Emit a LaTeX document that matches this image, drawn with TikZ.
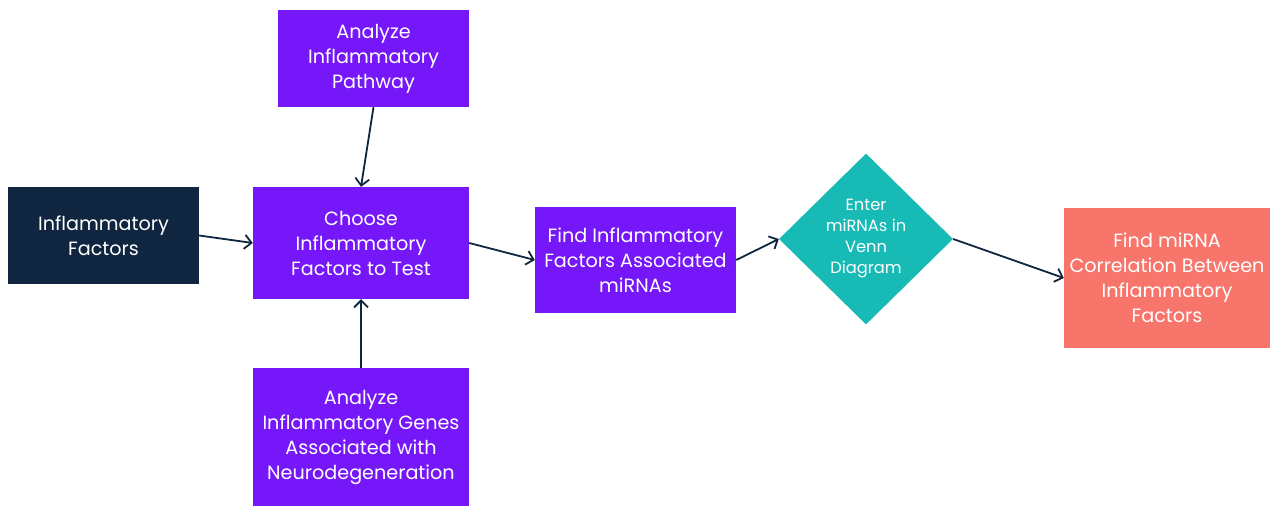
\documentclass[tikz,border=0pt]{standalone}
\usepackage{fontspec}
\setmainfont{Poppins}
\usepackage{tikz}
\usetikzlibrary{arrows.meta}
\usetikzlibrary{shapes.geometric}

\definecolor{navy}{HTML}{0F2540}
\definecolor{violet}{HTML}{7517F8}
\definecolor{teal}{HTML}{18BAB5}
\definecolor{salmon}{HTML}{F8756B}

\begin{document}
\begin{tikzpicture}[x=1pt, y=-1pt, every node/.style = {text=white, align=center, inner sep=0pt,
					font=\fontsize{19.2}{25}\selectfont}]

\tikzstyle{dark_box} = [rectangle, fill=navy]
\tikzstyle{step_box} = [rectangle, fill=violet]
\tikzstyle{venn_node} = [diamond, fill=teal, font=\fontsize{16.3}{21}\selectfont]
\tikzstyle{final_box} = [rectangle, fill=salmon]
\tikzstyle{flow} = [draw=navy, line width=1.8pt, -{Straight Barb[length=7pt,width=14pt]}]

\useasboundingbox (0,0) rectangle (1279,506);

\node[dark_box, minimum width=191pt, minimum height=97pt] (factors) at (103.5,235.5) {Inflammatory\\Factors};
\node[step_box, minimum width=191pt, minimum height=97pt] (pathway) at (373.5,58.5) {Analyze\\Inflammatory\\Pathway};
\node[step_box, minimum width=216pt, minimum height=112pt] (choose) at (361,243) {Choose\\Inflammatory\\Factors to Test};
\node[step_box, minimum width=216pt, minimum height=138pt] (genes) at (361,437) {Analyze\\Inflammatory Genes\\Associated with\\Neurodegeneration};
\node[step_box, minimum width=201pt, minimum height=106pt] (find) at (635.5,260) {Find Inflammatory\\Factors Associated\\miRNAs};
\node[venn_node, minimum width=174pt, minimum height=171pt] (venn) at (866,239) {Enter\\miRNAs in\\Venn\\Diagram};
\node[final_box, minimum width=206pt, minimum height=140pt] (corr) at (1167,278) {Find miRNA\\Correlation Between\\Inflammatory\\Factors};

\draw[flow] (factors.east) -- (choose.west);
\draw[flow] (pathway.south) -- (choose.north);
\draw[flow] (genes.north) -- (choose.south);
\draw[flow] (choose.east) -- (find.west);
\draw[flow] (find.east) -- (venn.west);
\draw[flow] (venn.east) -- (corr.west);
\end{tikzpicture}
\end{document}
